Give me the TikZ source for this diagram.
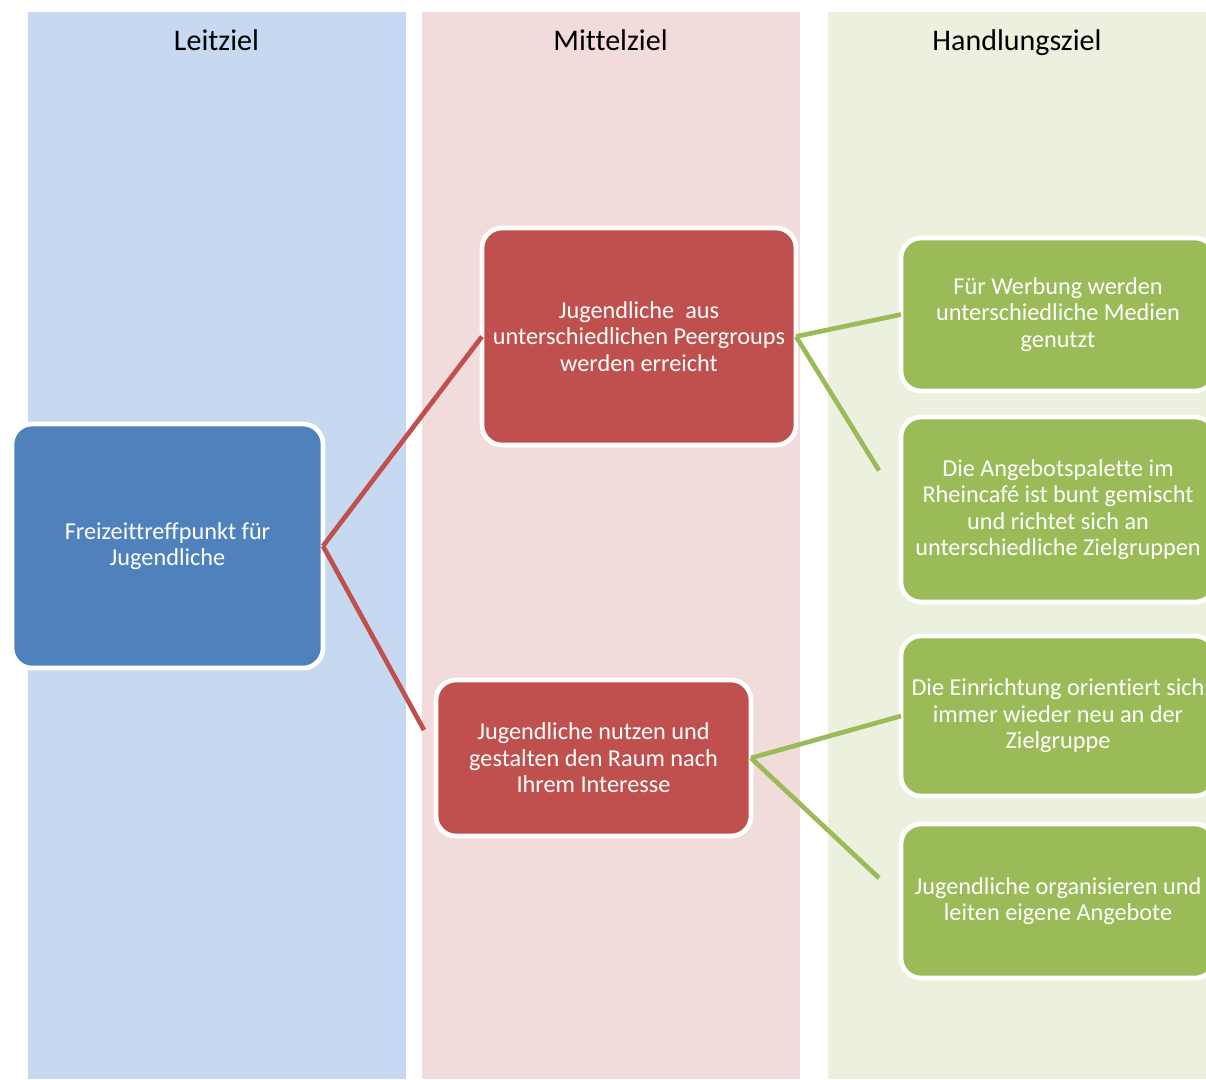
\documentclass[tikz,border=0pt]{standalone}
\usepackage{fontspec}
\setmainfont{Carlito}[Ligatures=NoCommon]
\usetikzlibrary{calc}

\definecolor{lzback}{HTML}{C6D9F0}
\definecolor{mzback}{HTML}{F2DCDB}
\definecolor{hzback}{HTML}{EBF1DE}
\definecolor{lzbox}{HTML}{4F81BD}
\definecolor{mzbox}{HTML}{C0504D}
\definecolor{hzbox}{HTML}{9BBB59}

\begin{document}
\begin{tikzpicture}[x=0.75pt, y=-0.75pt,
    col/.style={anchor=north, minimum width=283.5pt, minimum height=800.25pt,
                inner sep=0pt, outer sep=0pt},
    head/.style={anchor=base, font=\fontsize{22.5}{25}\selectfont, text=black},
    box/.style={draw=white, line width=3.5pt, rounded corners=15pt, text=white,
                align=center, inner sep=0pt, outer sep=0pt,
                font=\fontsize{18.2}{19.9}\selectfont},
    link/.style={line width=3.5pt}]
    \useasboundingbox (0,0) rectangle (1206,1079);
    \clip (0,0) rectangle (1206,1079);
    \node[col, fill=lzback] (colL) at (216.5,12) {};
    \node[col, fill=mzback] (colM) at (610.5,12) {};
    \node[col, fill=hzback] (colH) at (1017,12) {};
    \node[head] (headL) at ($(colL.north)+(0,38)$) {Leitziel};
    \node[head] (headM) at ($(colM.north)+(0,38)$) {Mittelziel};
    \node[head] (headH) at ($(colH.north)+(0,38)$) {Handlungsziel};

    \node[box, fill=lzbox, minimum width=233.25pt, minimum height=183pt]
      (lz) at (167.5,546) {Freizeittreffpunkt für\\Jugendliche};
    \node[box, fill=mzbox, minimum width=235.5pt, minimum height=162.75pt]
      (mz1) at (639,336.5) {Jugendliche\ \ aus\\unterschiedlichen Peergroups\\werden erreicht};
    \node[box, fill=mzbox, minimum width=236.25pt, minimum height=117pt]
      (mz2) at (593.5,758) {Jugendliche nutzen und\\gestalten den Raum nach\\Ihrem Interesse};
    \node[box, fill=hzbox, minimum width=235.5pt, minimum height=114.75pt]
      (hz1) at (1058,314.5) {Für Werbung werden\\unterschiedliche Medien\\genutzt};
    \node[box, fill=hzbox, minimum width=235.5pt, minimum height=138.75pt]
      (hz2) at (1058,509.5) {Die Angebotspalette im\\Rheincafé ist bunt gemischt\\und richtet sich an\\unterschiedliche Zielgruppen};
    \node[box, fill=hzbox, minimum width=235.5pt, minimum height=120pt]
      (hz3) at (1058,716) {Die Einrichtung orientiert sich\\immer wieder neu an der\\Zielgruppe};
    \node[box, fill=hzbox, minimum width=235.5pt, minimum height=115.5pt]
      (hz4) at (1058,901) {Jugendliche organisieren und\\leiten eigene Angebote};

    \coordinate (mz2end) at ($(mz2.west)+(-12,-28)$);
    \coordinate (hz2end) at ($(hz2.west)+(-22,-39)$);
    \coordinate (hz4end) at ($(hz4.west)+(-22,-23)$);
    \foreach \a/\b/\c in {lz.east/mz1.west/mzbox, lz.east/mz2end/mzbox,
                          mz1.east/hz1.west/hzbox, mz1.east/hz2end/hzbox,
                          mz2.east/hz3.west/hzbox, mz2.east/hz4end/hzbox}
      \draw[link, draw=\c] (\a) -- (\b);
  \end{tikzpicture}
\end{document}
